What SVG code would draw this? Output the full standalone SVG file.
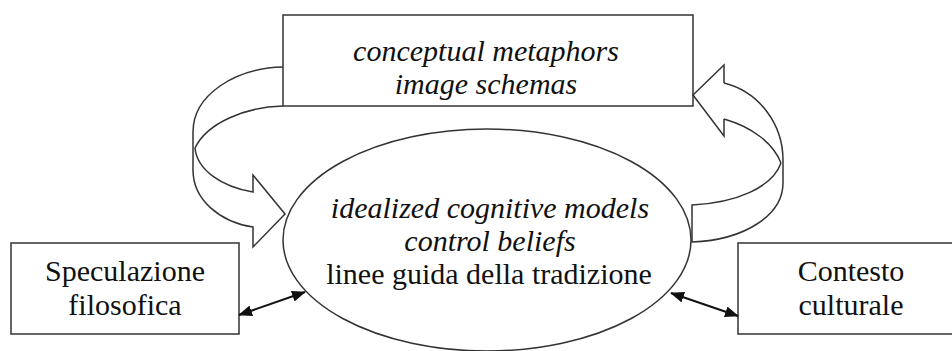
<svg xmlns="http://www.w3.org/2000/svg" width="952" height="351" viewBox="0 0 952 351">
<style>
.box{fill:#fff;stroke:#333;stroke-width:1.5}
.ln{fill:none;stroke:#333;stroke-width:1.5;stroke-linejoin:miter}
.t{font-size:30px;fill:#111;text-anchor:middle}
.i{font-style:italic}
.dbl{fill:none;stroke:#111;stroke-width:2;marker-start:url(#ah);marker-end:url(#ah)}
</style>
<defs>
<marker id="ah" viewBox="0 0 14 11" refX="13" refY="5.5" markerWidth="14" markerHeight="11" markerUnits="userSpaceOnUse" orient="auto-start-reverse">
<path d="M0,0 L14,5.5 L0,11 z" fill="#111"/>
</marker>
</defs>
<g id="top-box" font-family="Liberation Serif, Tinos, Times New Roman, DejaVu Serif, Noto Serif, serif">
<rect class="box" x="283" y="15" width="410" height="91"/>
<text class="t i" x="486" y="61">conceptual metaphors</text>
<text class="t i" x="486" y="94">image schemas</text>
</g>
<g id="center-ellipse" font-family="Liberation Serif, Tinos, Times New Roman, DejaVu Serif, Noto Serif, serif">
<ellipse class="box" cx="487" cy="240" rx="204" ry="111"/>
<text class="t i" x="490" y="218">idealized cognitive models</text>
<text class="t i" x="490" y="251">control beliefs</text>
<text class="t" x="489" y="284">linee guida della tradizione</text>
</g>
<g id="left-box" font-family="Liberation Serif, Tinos, Times New Roman, DejaVu Serif, Noto Serif, serif">
<rect class="box" x="11" y="243" width="228" height="91"/>
<text class="t" x="125" y="281">Speculazione</text>
<text class="t" x="125" y="315">filosofica</text>
</g>
<g id="right-box" font-family="Liberation Serif, Tinos, Times New Roman, DejaVu Serif, Noto Serif, serif">
<rect class="box" x="738" y="243" width="226" height="91"/>
<text class="t" x="851" y="281">Contesto</text>
<text class="t" x="851" y="315">culturale</text>
</g>
<g id="connectors">
<path class="ln" d="M283,67 C235,68 193,95 193,132 L193,170 C193,200 220,222 253,227 L253,247 L285,214 L253,175 L253,192 C222,187 197,170 195,148"/>
<path class="ln" d="M283,106 C245,107 207,123 195,148"/>
<path class="ln" d="M724,83 C760,92 783,125 783,160 L783,183 C783,215 745,240 692,242 L692,205 C735,203 772,188 781,163"/>
<path class="ln" d="M724,119 L724,136 L693,95 L724,65 L724,83"/>
<path class="ln" d="M724,119 C752,127 773,143 781,163"/>
<path class="dbl" d="M239,315 L305,292"/>
<path class="dbl" d="M671,293 L738,316"/>
</g>
</svg>
